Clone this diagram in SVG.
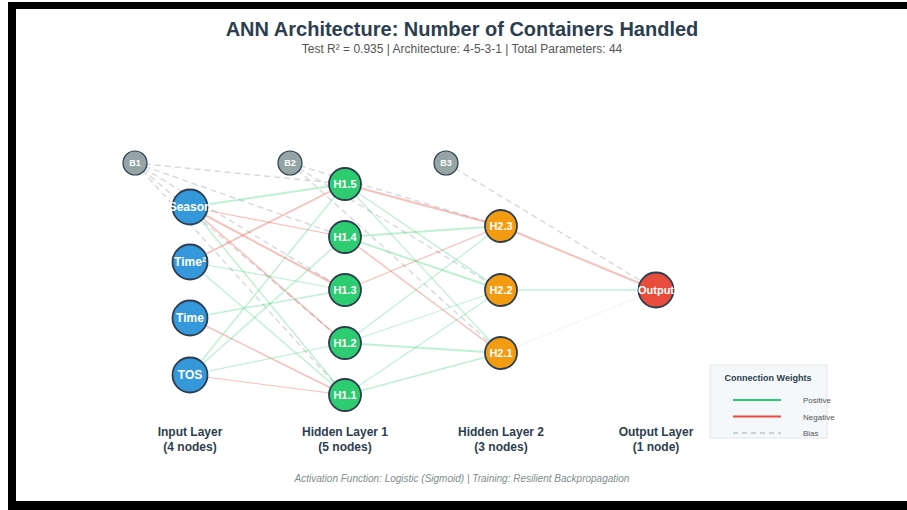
<svg xmlns="http://www.w3.org/2000/svg" width="907" height="510" viewBox="0 0 907 510">
<style>
text{font-family:"Liberation Sans",Arial,sans-serif}
.frame{fill:#000}
.title{font-size:20px;font-weight:bold;fill:#2c3e50;text-anchor:middle}
.sub{font-size:12px;fill:#555;text-anchor:middle}
.lay{font-size:12px;font-weight:bold;fill:#2c3e50;text-anchor:middle}
.foot{font-size:10px;font-style:italic;fill:#7f8c8d;text-anchor:middle}
.pos{stroke:#2ecc71;stroke-opacity:.3;fill:none}
.neg{stroke:#e74c3c;stroke-opacity:.35;fill:none}
.bias{stroke:#bdc3c7;stroke-opacity:.6;stroke-width:1.5;stroke-dasharray:6 4;fill:none}
.node{stroke:#2c3e50;stroke-width:1.8}
.in{fill:#3498db}.h1{fill:#2ecc71}.h2{fill:#f39c12}.out{fill:#e74c3c}.b{fill:#95a5a6;stroke:#2c3e50;stroke-width:1.2}
.lbl{fill:#fff;font-weight:bold;text-anchor:middle}
.l12{font-size:12px}.l11{font-size:11px}.l9{font-size:9px}
.legt{font-size:9px;font-weight:bold;fill:#2c3e50}
.legl{font-size:8px;fill:#555}
</style>
<rect width="907" height="510" fill="#fff"/>
<rect class="frame" x="8" y="2" width="899" height="7"/>
<rect class="frame" x="8" y="2" width="8" height="508"/>
<rect class="frame" x="8" y="501" width="899" height="9"/>

<text class="title" x="462" y="36">ANN Architecture: Number of Containers Handled</text>
<text class="sub" x="462" y="53">Test R² = 0.935 | Architecture: 4-5-3-1 | Total Parameters: 44</text>

<g id="connectors">
  <!-- bias -->
  <line class="bias" x1="135" y1="163" x2="345" y2="184"/>
  <line class="bias" x1="135" y1="163" x2="345" y2="237"/>
  <line class="bias" x1="135" y1="163" x2="345" y2="290"/>
  <line class="bias" x1="135" y1="163" x2="345" y2="343"/>
  <line class="bias" x1="135" y1="163" x2="345" y2="395"/>
  <line class="bias" x1="290" y1="163" x2="501" y2="226"/>
  <line class="bias" x1="290" y1="163" x2="501" y2="290"/>
  <line class="bias" x1="290" y1="163" x2="501" y2="353"/>
  <line class="bias" x1="446" y1="163" x2="656" y2="290"/>
  <!-- input -> H1 -->
  <line class="pos" stroke-width="2" x1="190" y1="207" x2="345" y2="184"/>
  <line class="neg" stroke-width="1.2" x1="190" y1="207" x2="345" y2="237"/>
  <line class="neg" stroke-width="2" x1="190" y1="207" x2="345" y2="290"/>
  <line class="neg" stroke-width="1.5" x1="190" y1="207" x2="345" y2="343"/>
  <line class="pos" stroke-width="1.5" x1="190" y1="207" x2="345" y2="395"/>
  <line class="neg" stroke-width="1.8" x1="190" y1="262" x2="345" y2="184"/>
  <line class="pos" stroke-width="1.2" x1="190" y1="262" x2="345" y2="290"/>
  <line class="pos" stroke-width="1.5" x1="190" y1="262" x2="345" y2="395"/>
  <line class="pos" stroke-width="1.5" x1="190" y1="318" x2="345" y2="290"/>
  <line class="neg" stroke-width="1.5" x1="190" y1="318" x2="345" y2="395"/>
  <line class="pos" stroke-width="1.5" x1="190" y1="375" x2="345" y2="184"/>
  <line class="pos" stroke-width="1.5" x1="190" y1="375" x2="345" y2="237"/>
  <line class="pos" stroke-width="1.2" x1="190" y1="375" x2="345" y2="343"/>
  <line class="neg" stroke-width="1.2" x1="190" y1="375" x2="345" y2="395"/>
  <!-- H1 -> H2 -->
  <line class="neg" stroke-width="2" x1="345" y1="184" x2="501" y2="226"/>
  <line class="pos" stroke-width="1.5" x1="345" y1="184" x2="501" y2="290"/>
  <line class="pos" stroke-width="1.2" x1="345" y1="184" x2="501" y2="353"/>
  <line class="pos" stroke-width="2" x1="345" y1="237" x2="501" y2="226"/>
  <line class="pos" stroke-width="2" x1="345" y1="237" x2="501" y2="290"/>
  <line class="neg" stroke-width="1.5" x1="345" y1="237" x2="501" y2="353"/>
  <line class="neg" stroke-width="1.2" x1="345" y1="290" x2="501" y2="226"/>
  <line class="pos" stroke-width="1.2" x1="345" y1="343" x2="501" y2="226"/>
  <line class="pos" stroke-width="1" x1="345" y1="343" x2="501" y2="290"/>
  <line class="pos" stroke-width="2.2" x1="345" y1="343" x2="501" y2="353"/>
  <line class="pos" stroke-width="1.2" x1="345" y1="395" x2="501" y2="290"/>
  <line class="pos" stroke-width="1.8" x1="345" y1="395" x2="501" y2="353"/>
  <!-- H2 -> Output -->
  <line class="neg" stroke-width="2" x1="501" y1="226" x2="656" y2="290"/>
  <line class="pos" stroke-width="1.5" x1="501" y1="290" x2="656" y2="290"/>
  <line class="neg" stroke-width="0.8" stroke-dasharray="1 2" x1="501" y1="353" x2="656" y2="290"/>
</g>

<g id="B1"><circle class="b" cx="135" cy="163" r="12"/><text class="lbl l9" x="135" y="166">B1</text></g>
<g id="B2"><circle class="b" cx="290" cy="163" r="12"/><text class="lbl l9" x="290" y="166">B2</text></g>
<g id="B3"><circle class="b" cx="446" cy="163" r="12"/><text class="lbl l9" x="446" y="166">B3</text></g>

<g id="Season"><circle class="node in" cx="190" cy="207" r="17.5"/><text class="lbl l12" x="190" y="211">Season</text></g>
<g id="Time2"><circle class="node in" cx="190" cy="262" r="17.5"/><text class="lbl l12" x="190" y="266">Time²</text></g>
<g id="Time"><circle class="node in" cx="190" cy="318" r="17.5"/><text class="lbl l12" x="190" y="322">Time</text></g>
<g id="TOS"><circle class="node in" cx="190" cy="375" r="17.5"/><text class="lbl l12" x="190" y="379">TOS</text></g>

<g id="H1.5"><circle class="node h1" cx="345" cy="184" r="16"/><text class="lbl l11" x="345" y="188">H1.5</text></g>
<g id="H1.4"><circle class="node h1" cx="345" cy="237" r="16"/><text class="lbl l11" x="345" y="241">H1.4</text></g>
<g id="H1.3"><circle class="node h1" cx="345" cy="290" r="16"/><text class="lbl l11" x="345" y="294">H1.3</text></g>
<g id="H1.2"><circle class="node h1" cx="345" cy="343" r="16"/><text class="lbl l11" x="345" y="347">H1.2</text></g>
<g id="H1.1"><circle class="node h1" cx="345" cy="395" r="16"/><text class="lbl l11" x="345" y="399">H1.1</text></g>

<g id="H2.3"><circle class="node h2" cx="501" cy="226" r="16"/><text class="lbl l11" x="501" y="230">H2.3</text></g>
<g id="H2.2"><circle class="node h2" cx="501" cy="290" r="16"/><text class="lbl l11" x="501" y="294">H2.2</text></g>
<g id="H2.1"><circle class="node h2" cx="501" cy="353" r="16"/><text class="lbl l11" x="501" y="357">H2.1</text></g>

<g id="Output"><circle class="node out" cx="656" cy="290" r="17.5"/><text class="lbl l11" x="656" y="294">Output</text></g>

<g id="layer-labels">
  <text class="lay" x="190" y="436">Input Layer</text><text class="lay" x="190" y="451">(4 nodes)</text>
  <text class="lay" x="345" y="436">Hidden Layer 1</text><text class="lay" x="345" y="451">(5 nodes)</text>
  <text class="lay" x="501" y="436">Hidden Layer 2</text><text class="lay" x="501" y="451">(3 nodes)</text>
  <text class="lay" x="656" y="436">Output Layer</text><text class="lay" x="656" y="451">(1 node)</text>
</g>

<g id="legend">
  <rect x="710" y="365" width="117" height="73" fill="#f5f8fb" stroke="#e1e6ea" stroke-width="1"/>
  <text class="legt" x="768" y="381" text-anchor="middle">Connection Weights</text>
  <line x1="733" y1="400" x2="781" y2="400" stroke="#2ecc71" stroke-width="2.2"/>
  <line x1="733" y1="416.5" x2="781" y2="416.5" stroke="#e74c3c" stroke-width="2.2"/>
  <line x1="733" y1="433" x2="781" y2="433" stroke="#bdc3c7" stroke-width="1.5" stroke-dasharray="5 4"/>
  <text class="legl" x="803" y="403">Positive</text>
  <text class="legl" x="803" y="419.5">Negative</text>
  <text class="legl" x="803" y="436">Bias</text>
</g>

<text class="foot" x="462" y="482">Activation Function: Logistic (Sigmoid) | Training: Resilient Backpropagation</text>
</svg>
